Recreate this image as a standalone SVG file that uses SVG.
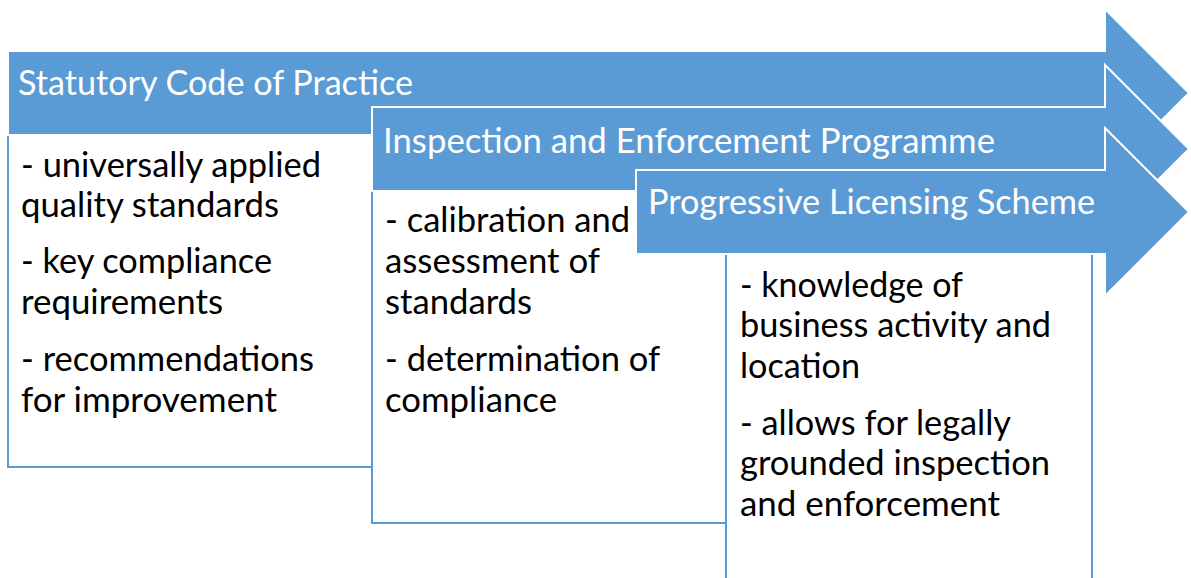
<svg xmlns="http://www.w3.org/2000/svg" width="1191" height="578" viewBox="0 0 1191 578">
  <style>
    .box { fill: #ffffff; stroke: #5b9bd5; stroke-width: 2; }
    .arrow { fill: #5b9bd5; stroke: #ffffff; stroke-width: 2; stroke-linejoin: miter; }
    .title { font-family: Lato, "Open Sans", sans-serif; font-size: 34.5px; fill: #ffffff; }
    .body { font-family: Lato, "Open Sans", sans-serif; font-size: 34.5px; fill: #000000; }
  </style>
  <rect x="0" y="0" width="1191" height="578" fill="#ffffff"/>
  <g id="node1">
    <rect class="box" x="8" y="134" width="364" height="333"/>
    <polygon class="arrow" points="8,51 1105,51 1105,9 1189,93 1105,177 1105,135 8,135"/>
    <text class="title" x="18" y="95" textLength="395" lengthAdjust="spacingAndGlyphs">Statutory Code of Practice</text>
    <text class="body" x="21" y="176.5" textLength="300" lengthAdjust="spacingAndGlyphs">- universally applied</text>
    <text class="body" x="21" y="217" textLength="258" lengthAdjust="spacingAndGlyphs">quality standards</text>
    <text class="body" x="21" y="273" textLength="251" lengthAdjust="spacingAndGlyphs">- key compliance</text>
    <text class="body" x="21" y="314" textLength="202" lengthAdjust="spacingAndGlyphs">requirements</text>
    <text class="body" x="21" y="371" textLength="293" lengthAdjust="spacingAndGlyphs">- recommendations</text>
    <text class="body" x="21" y="412" textLength="256" lengthAdjust="spacingAndGlyphs">for improvement</text>
  </g>
  <g id="node2">
    <rect class="box" x="372" y="190" width="354" height="333"/>
    <polygon class="arrow" points="372,107 1105,107 1105,65 1189,149 1105,233 1105,191 372,191"/>
    <text class="title" x="383" y="153" textLength="612" lengthAdjust="spacingAndGlyphs">Inspection and Enforcement Programme</text>
    <text class="body" x="385" y="232" textLength="245" lengthAdjust="spacingAndGlyphs">- calibration and</text>
    <text class="body" x="385" y="273" textLength="215" lengthAdjust="spacingAndGlyphs">assessment of</text>
    <text class="body" x="385" y="314" textLength="147" lengthAdjust="spacingAndGlyphs">standards</text>
    <text class="body" x="385" y="371" textLength="275" lengthAdjust="spacingAndGlyphs">- determination of</text>
    <text class="body" x="385" y="412" textLength="172" lengthAdjust="spacingAndGlyphs">compliance</text>
  </g>
  <g id="node3">
    <rect class="box" x="726" y="254" width="366" height="340"/>
    <polygon class="arrow" points="636,170 1105,170 1105,128 1189,212 1105,296 1105,254 636,254"/>
    <text class="title" x="648" y="214" textLength="447" lengthAdjust="spacingAndGlyphs">Progressive Licensing Scheme</text>
    <text class="body" x="740" y="296.5" textLength="223" lengthAdjust="spacingAndGlyphs">- knowledge of</text>
    <text class="body" x="740" y="337" textLength="311" lengthAdjust="spacingAndGlyphs">business activity and</text>
    <text class="body" x="740" y="377.5" textLength="120" lengthAdjust="spacingAndGlyphs">location</text>
    <text class="body" x="740" y="434.5" textLength="271" lengthAdjust="spacingAndGlyphs">- allows for legally</text>
    <text class="body" x="740" y="475" textLength="310" lengthAdjust="spacingAndGlyphs">grounded inspection</text>
    <text class="body" x="740" y="515.5" textLength="260" lengthAdjust="spacingAndGlyphs">and enforcement</text>
  </g>
  <g id="connectors"/>
</svg>
